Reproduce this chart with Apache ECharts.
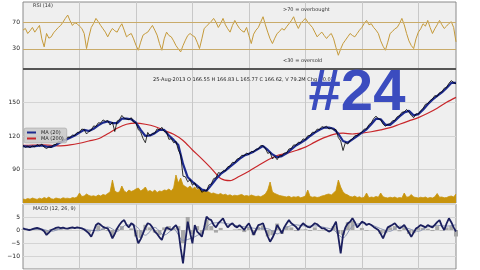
<!DOCTYPE html>
<html><head><meta charset="utf-8">
<script src="https://cdn.jsdelivr.net/npm/echarts@6/dist/echarts.min.js"></script>
<style>html,body{margin:0;padding:0;background:#fff;}#c{width:480px;height:270px;}</style>
</head><body><div id="c"></div>
<script>
// semi-monthly categories, Jan 2006 .. Aug 2013
const categories = [];
for (let y = 2006; y <= 2013; y++) for (let m = 1; m <= 12; m++) for (const d of ['01','16']) {
  if (categories.length < 185) categories.push(y + '-' + String(m).padStart(2,'0') + '-' + d);
}
const closePrice = [
111.5,109.8,110.8,109.6,111,110.2,112.3,111,112.8,110,
108.8,110.2,109.8,112.2,112.4,115.2,114.8,117,116.8,119,
118.8,120.8,120.4,123.2,123.4,126.2,125.8,121.8,124,125.2,
129,128.6,131.8,131.6,134.4,133.2,133.8,129.8,132.4,124,
133.4,134.6,138.4,136,135.2,134.6,136.4,132.4,131.8,125.6,
123.6,117.8,114,123.2,120.2,122.4,122.6,126.4,125.4,127.8,
124,123.6,117,117.6,114,115.2,107.5,103,84,83.5,
79,80.8,76,78,73.2,73.8,69.6,71,70.8,76.2,
77,81.8,82.6,87.2,86.6,88.8,88.8,92.4,93.2,96.4,
96.2,99.4,100.2,102.8,102.2,104.8,103.6,106.2,105.8,108.2,
108.4,111.4,111.2,109,104.4,105.4,99.5,101.6,98.8,102.4,
102.2,104.8,104.8,108.4,108.8,112,111.8,114.4,114.2,117.4,
116.8,120.2,120.4,123.4,123.2,126.2,125.8,128.4,127.6,128.8,
126.2,127.2,125.4,125.8,118.6,115.6,107,114.2,112.8,116,
117.4,120.2,120.4,122,123.4,126.2,126.4,130.2,131.8,135.6,
137.8,135.4,134.6,130.6,128.8,130.4,131,133.6,134,137.2,
138.2,141.2,141.6,143.8,141.4,138.4,136.4,139.8,139.8,142.8,
144.6,148.4,149,151.8,153.2,156.2,155.4,158.8,159.6,162.8,
163.6,167.2,169.6,168,166.6];
// MA(20), every 2nd point
const ma20 = [
111,110.5,110.6,111.2,111.5,110.5,110.2,112,114.5,116.5,
118.5,120.5,123,125.5,124.5,126.5,129.5,132,133,131.5,
131.5,135.5,135.5,135,132,125.5,120,120.5,122.5,125.5,
125.5,120.5,116.5,112,95,83,79,75.5,72,71,
76,81.5,86,89,92.5,96,99.5,102.5,104,106,
108.5,111,107.5,103.5,101,102,104.5,108,111.5,114,
116.5,120,123,125.5,127.5,127.5,126.5,122,115.5,114,
117,120,123,126,130.5,135.5,135,130,130,133.5,
137.5,141,142.5,138.5,139.5,143.5,148.5,152.5,156,159,
163,167.5,167.5];
// MA(200), every 4th point
const ma200 = [
111.6,111.8,112,111.6,111.2,112,113.5,115.5,117.5,122,
127,130.5,131.5,130.5,128.5,125,121.5,116,107.5,99.5,
91,82,80,84,88.5,93.5,98.5,102.5,104.5,107,
110,114.5,118.5,121.5,122.5,121.8,122.5,123.8,125.5,127.5,
130.5,133.5,136.5,140.3,144.8,150.2,154.6];
const volume = [
40,35,45,38,50,42,36,48,40,55,
45,60,42,38,50,44,40,52,46,48,
42,55,50,60,100,65,70,90,75,68,
72,65,80,70,85,78,95,110,230,120,
105,110,170,120,105,130,115,125,140,150,
120,135,160,115,125,110,130,105,120,115,
130,125,140,120,150,280,200,250,180,165,
150,170,140,160,130,145,125,140,115,110,
95,100,90,85,95,80,88,75,82,70,
78,72,80,85,70,75,68,80,72,65,
70,62,75,90,130,210,110,95,85,75,
70,65,60,68,55,62,58,66,52,60,
70,130,65,58,62,55,60,70,75,85,
90,80,100,125,230,160,110,90,80,65,
60,70,55,62,50,58,100,52,60,55,
65,58,100,62,55,50,58,52,60,48,
55,50,100,58,62,85,60,55,50,58,
52,60,48,55,50,62,95,58,60,52,
55,65,70,60,90];
const rsi = [
58,60.5,53,57,62,55,60,65,45,33,
53,46,48,54,58,62,65,70,75.5,80.5,
72,65,69,67.5,64,60.5,53,30.5,48,62,
68,75.5,70.5,65,60,55,48,55,60.5,57,
55,62,67.5,58,48,51,53,45,35.5,28,
40,50.5,53,55,60,65,58,50.5,38,28,
45,55,50,48,42,35,30,25.5,35,43,
50,53,50,48,40,30.5,45,60.5,64,67.5,
71,75.5,70,62,68,75.5,66,60,55,65,
72.5,66,60.5,57,55,62,50,38,52,58,
62,70,78,66,55,45,38,46,53,56,
60.5,58,63,67.5,72,78,68,60.5,68,72,
75.5,70,66,62,55,48,52,55,50,45.5,
50,53,45,32,20.5,30,38,43,48,53,
50,48,53,58,62,68,72.5,66,67.5,62,
58,53,42,34,28,40,53,56,60,62,
68,75.5,66,53,42,35,30.5,45,55,60,
67.5,64,72.5,62,53,60,66,72.5,66,60.5,
64,68,70.5,62,40.5];
const macd = [
0.6,0.3,0.1,0,0.3,0.6,0.8,0.5,0.2,-0.5,
-1.9,-1,0,0.4,0.8,1,0.7,0.9,0.6,0.5,
0.8,1,0.7,1,0.8,0.6,0.2,-0.5,-1.3,-2.6,
-0.5,1.9,2.6,2,1.2,0.8,0.6,-1,-3.2,-1.5,
0.6,2,3.2,3.8,2,1,2.6,2,-1.9,-5.1,
-3.5,-1.3,1,2.6,2.2,1,-0.6,-1.5,-2.8,-3.8,
-1,1,0.5,0,1,1.9,0,-7,-12.8,-4.5,
3.2,-1,-5.1,1.9,-0.6,-1.5,-2.6,1,5.1,4.2,
3.8,2,1,2.6,3.5,4.5,2.5,1,2,2.6,
1.5,1,1.9,1,0,1.5,2.6,0.5,-1.9,0,
1.9,2.2,2.6,0,-2.5,-4.5,-3,-1,1.9,0.5,
-1.3,1,2.5,3.8,2.6,1.9,1.2,0,1.5,2.6,
1.8,1.2,1,1.8,2.6,2.2,1.4,0.6,0.6,0,
-0.6,-0.2,1.5,3.2,-2.6,-9,-1.9,1,2.5,3.2,
4.5,3,1,2,3.2,2.8,1.9,2.4,1.9,1.2,
0.6,0,-1.5,-3.2,-1,1,1.5,2,2.6,1.5,
0.6,1.2,1.9,0.5,-1,-2.6,-1,0.6,1.2,1.9,
1.5,1,1.9,1.4,1,2,3,3.8,1.5,0,
2.5,4.5,3,1,-0.6];
// signal, every 4th point
const signal = [
0.4,0.2,0.3,-0.5,0.4,0.7,0.8,0,-0.3,1.2,
-0.5,2,1.5,-2,1,-2,0.3,-4,-3,-1,
2.5,2.8,2.2,1.5,1,0.5,0.5,-1.5,1,2,
1.5,1.6,1,0,-3,1.5,2.5,2,0.5,-0.5,
1.5,0.5,-0.5,1.2,1.8,1.5,2];
// histogram, every 2nd point
const hist = [
0.2,0,0.2,0.4,-0.1,-1.2,0.4,0.5,0.3,0.1,
0.1,0,0,0,-1,-0.3,1.8,0.6,-0.4,-2.5,
0.5,1.5,0,0.6,-2.5,-3,2,1,-1,-2,
1,1.5,0.8,1.5,-5,5,-1.5,1.5,-1.5,4,
1.5,-1,0.8,0,0,0.2,0.4,-0.8,1.2,-2,
1.2,1.8,-2.5,-2,2.5,-1.5,1.5,1,-0.4,0.2,
0.3,-0.4,1,-0.2,-0.2,-0.5,1.5,-1.5,-2,3,
3.5,0,0.8,-0.3,0,0,-1.5,-1.2,1,1.5,
-0.5,1,-1.5,-1.2,1,0.8,0.5,-0.4,1.5,-0.2,
1,1.5,-2.5];
const yTicksRSI = [30, 70];

const FONT = 'DejaVu Sans';
const BG = '#efefef';
const chart = echarts.init(document.getElementById('c'), null, {renderer: 'canvas'});
const every = (arr, k) => arr.map((v, j) => [j * k, v]);
const xBase = (g) => ({
  type: 'category', gridIndex: g, data: categories, boundaryGap: false,
  axisLine: {show: false}, axisTick: {show: false}, axisLabel: {show: false},
  splitLine: {show: true, interval: (i) => i % 24 === 0 && i > 0, lineStyle: {color: '#c8c8c8', width: 1}}
});
const labelStyle = {fontSize: 6, color: '#222', fontFamily: FONT, margin: 3};
const gridBase = {left: 23, right: 24, show: true, backgroundColor: BG, borderColor: '#8a8a8a', borderWidth: 1};
chart.setOption({
  animation: false,
  backgroundColor: '#fff',
  grid: [
    Object.assign({}, gridBase, {top: 2, height: 67}),
    Object.assign({}, gridBase, {top: 69, height: 134}),
    Object.assign({}, gridBase, {top: 204, height: 65})
  ],
  xAxis: [xBase(0), xBase(1), xBase(2)],
  yAxis: [
    {type: 'value', gridIndex: 0, min: 0, max: 100, interval: 10,
     axisLine: {show: false}, axisTick: {show: false}, splitLine: {show: false},
     axisLabel: Object.assign({}, labelStyle, {formatter: v => yTicksRSI.includes(v) ? String(v) : ''})},
    {type: 'value', gridIndex: 1, min: 60, max: 180, interval: 30,
     axisLine: {show: false}, axisTick: {show: false},
     splitLine: {show: true, lineStyle: {color: '#d4d4d4'}},
     axisLabel: Object.assign({}, labelStyle, {showMinLabel: false, showMaxLabel: false})},
    {type: 'value', gridIndex: 1, min: 0, max: 1340, show: false, splitLine: {show: false}},
    {type: 'value', gridIndex: 2, min: -15, max: 10, interval: 5,
     axisLine: {show: false}, axisTick: {show: false},
     splitLine: {show: true, lineStyle: {color: '#d4d4d4'}},
     axisLabel: Object.assign({}, labelStyle, {showMinLabel: false, showMaxLabel: false,
       formatter: v => v < 0 ? '\u2212' + Math.abs(v) : String(v)})}
  ],
  legend: {
    left: 24, top: 128, orient: 'vertical', itemGap: 1, itemWidth: 9, itemHeight: 2,
    padding: [2, 3, 2, 3], backgroundColor: 'rgba(200,200,200,0.85)', borderColor: '#999', borderWidth: 0.5, borderRadius: 2,
    icon: 'rect', textStyle: {fontSize: 5, color: '#222', fontFamily: FONT, padding: [0, 0, 0, 0]},
    data: ['MA (20)', 'MA (200)']
  },
  series: [
    {type: 'line', name: 'RSI', xAxisIndex: 0, yAxisIndex: 0, data: rsi, showSymbol: false,
     lineStyle: {color: '#c59a3a', width: 1}, itemStyle: {color: '#c59a3a'},
     markLine: {silent: true, symbol: 'none', label: {show: false},
       lineStyle: {color: '#c9ab6a', type: 'solid', width: 1},
       data: yTicksRSI.map(v => ({yAxis: v}))}},
    {type: 'line', name: 'Volume', xAxisIndex: 1, yAxisIndex: 2, data: volume, showSymbol: false,
     lineStyle: {color: '#c8940c', width: 0.8}, areaStyle: {color: '#c8940c', opacity: 1}, itemStyle: {color: '#c8940c'}},
    {type: 'line', name: 'MA (200)', xAxisIndex: 1, yAxisIndex: 1, data: every(ma200, 4), showSymbol: false, smooth: 0.3,
     lineStyle: {color: '#c8262a', width: 1.2}, itemStyle: {color: '#c8262a'}},
    {type: 'line', name: 'MA (20)', xAxisIndex: 1, yAxisIndex: 1, data: every(ma20, 2), showSymbol: false,
     lineStyle: {color: '#1d2a8e', width: 2.2}, itemStyle: {color: '#1d2a8e'}},
    {type: 'line', name: 'Close', xAxisIndex: 1, yAxisIndex: 1, data: closePrice, showSymbol: false,
     lineStyle: {color: '#000', width: 0.8}, itemStyle: {color: '#000'}},
    {type: 'bar', name: 'Hist', xAxisIndex: 2, yAxisIndex: 3, data: every(hist, 2), barWidth: 4,
     itemStyle: {color: '#a8a8a8'}},
    {type: 'line', name: 'Signal', xAxisIndex: 2, yAxisIndex: 3, data: every(signal, 4), showSymbol: false, smooth: 0.3,
     lineStyle: {color: '#8c96b4', width: 1}},
    {type: 'line', name: 'MACD', xAxisIndex: 2, yAxisIndex: 3, data: macd, showSymbol: false,
     lineStyle: {color: '#1b1f5e', width: 1.8}}
  ],
  graphic: [
    {type: 'line', shape: {x1: 23, y1: 69, x2: 456, y2: 69}, style: {stroke: '#555', lineWidth: 2}, z: 50},
    {type: 'text', z: 50, style: {x: 33, y: 6, text: 'RSI (14)', font: '5px "DejaVu Sans"', fill: '#333', textVerticalAlign: 'middle', verticalAlign: 'middle'}},
    {type: 'text', z: 50, style: {x: 283, y: 10, text: '>70 = overbought', font: '5px "DejaVu Sans"', fill: '#333', textVerticalAlign: 'middle', verticalAlign: 'middle'}},
    {type: 'text', z: 50, style: {x: 283, y: 60.5, text: '<30 = oversold', font: '5px "DejaVu Sans"', fill: '#333', textVerticalAlign: 'middle', verticalAlign: 'middle'}},
    {type: 'text', z: 50, style: {x: 153, y: 80, text: '25-Aug-2013 O 166.55 H 166.83 L 165.77 C 166.62, V 79.2M Chg +0.07', font: '5px "DejaVu Sans"', fill: '#222', textVerticalAlign: 'middle', verticalAlign: 'middle'}},
    {type: 'text', z: 50, style: {x: 33, y: 209, text: 'MACD (12, 26, 9)', font: '5px "DejaVu Sans"', fill: '#333', textVerticalAlign: 'middle', verticalAlign: 'middle'}},
    {type: 'text', z: 100, style: {x: 357, y: 94, text: '#24', font: 'bold 58px "Liberation Sans"', fill: '#3b4cbf',
      textAlign: 'center', align: 'center', textVerticalAlign: 'middle', verticalAlign: 'middle'}}
  ]
});
</script></body></html>
